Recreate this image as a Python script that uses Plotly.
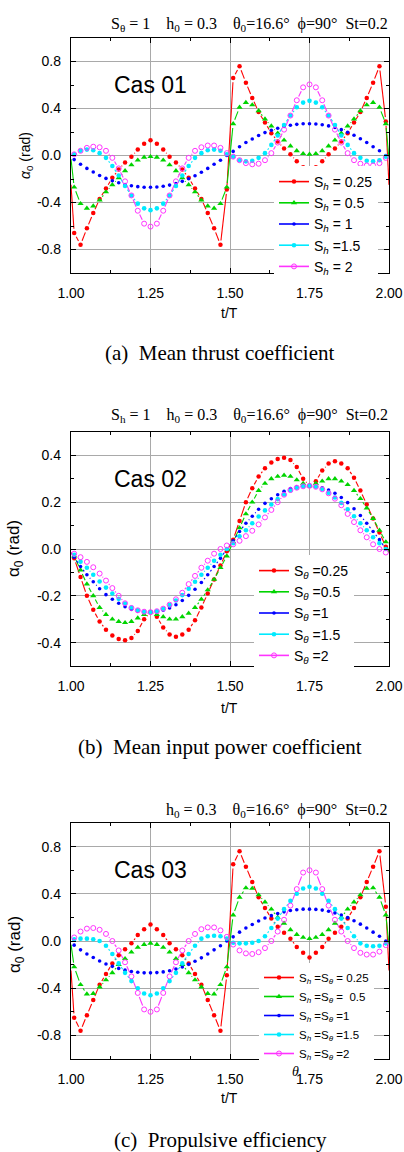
import math
import plotly.graph_objects as go

# ---------------- data ----------------
T = [1.00, 1.01, 1.03, 1.05, 1.07, 1.09, 1.11, 1.13, 1.15, 1.17, 1.19, 1.21, 1.23, 1.25,
     1.27, 1.29, 1.31, 1.33, 1.35, 1.37, 1.39, 1.41, 1.43, 1.45, 1.47, 1.49,
     1.51, 1.53, 1.55, 1.57, 1.59, 1.61, 1.63, 1.65, 1.67, 1.69, 1.71, 1.73, 1.75,
     1.77, 1.79, 1.81, 1.83, 1.85, 1.87, 1.89, 1.91, 1.93, 1.95, 1.97, 1.99, 2.00]

# Cas 01 : S_theta = 1, S_h varies
cas1_sh025 = [-0.25,
    -0.66, -0.76, -0.62, -0.49, -0.37, -0.28, -0.19, -0.12, -0.06, -0.01, 0.05, 0.10, 0.13,
    0.10, 0.05, -0.01, -0.06, -0.12, -0.19, -0.28, -0.37, -0.49, -0.62, -0.76, -0.29,
    0.66, 0.76, 0.62, 0.49, 0.37, 0.28, 0.19, 0.12, 0.06, 0.01, -0.05, -0.10, -0.13,
    -0.10, -0.05, 0.01, 0.06, 0.12, 0.19, 0.28, 0.37, 0.49, 0.62, 0.76, 0.29,
    -0.25]
cas1_sh05 = [-0.03,
    -0.27, -0.41, -0.45, -0.43, -0.38, -0.31, -0.25, -0.19, -0.13, -0.08, -0.04, -0.015, -0.01,
    -0.015, -0.04, -0.08, -0.13, -0.19, -0.25, -0.31, -0.38, -0.43, -0.45, -0.41, -0.27,
    0.27, 0.41, 0.45, 0.43, 0.38, 0.31, 0.25, 0.19, 0.13, 0.08, 0.04, 0.015, 0.01,
    0.015, 0.04, 0.08, 0.13, 0.19, 0.25, 0.31, 0.38, 0.43, 0.45, 0.41, 0.27,
    -0.03]
cas1_sh1 = [-0.017,
    -0.035, -0.075, -0.11, -0.14, -0.17, -0.195, -0.215, -0.232, -0.247, -0.258, -0.265, -0.27, -0.27,
    -0.268, -0.262, -0.252, -0.238, -0.22, -0.198, -0.172, -0.143, -0.11, -0.075, -0.04, 0.0,
    0.035, 0.075, 0.11, 0.14, 0.17, 0.195, 0.215, 0.232, 0.247, 0.258, 0.265, 0.27, 0.27,
    0.268, 0.262, 0.252, 0.238, 0.22, 0.198, 0.172, 0.143, 0.11, 0.075, 0.04, 0.0,
    -0.017]
cas1_sh15 = [0.0,
    0.01, 0.04, 0.05, 0.045, 0.02, -0.02, -0.09, -0.17, -0.26, -0.34, -0.41, -0.45, -0.465,
    -0.45, -0.41, -0.34, -0.26, -0.17, -0.09, -0.02, 0.02, 0.045, 0.05, 0.04, 0.01,
    -0.01, -0.04, -0.05, -0.045, -0.02, 0.02, 0.09, 0.17, 0.26, 0.34, 0.41, 0.45, 0.465,
    0.45, 0.41, 0.34, 0.26, 0.17, 0.09, 0.02, -0.02, -0.045, -0.05, -0.04, -0.01,
    0.0]
cas1_sh2 = [0.0,
    0.01, 0.04, 0.065, 0.075, 0.07, 0.04, -0.02, -0.11, -0.22, -0.34, -0.47, -0.58, -0.605,
    -0.58, -0.47, -0.34, -0.22, -0.11, -0.02, 0.04, 0.07, 0.085, 0.085, 0.065, 0.02,
    -0.01, -0.04, -0.065, -0.075, -0.07, -0.04, 0.02, 0.11, 0.22, 0.34, 0.47, 0.58, 0.605,
    0.58, 0.47, 0.34, 0.22, 0.11, 0.02, -0.04, -0.07, -0.085, -0.085, -0.065, -0.02,
    0.0]

# Cas 02 : S_h = 1, S_theta varies
cas2_st025 = [-0.015,
    -0.04, -0.12, -0.20, -0.26, -0.31, -0.345, -0.37, -0.385, -0.39, -0.38, -0.35, -0.30, -0.27,
    -0.29, -0.335, -0.365, -0.375, -0.365, -0.345, -0.305, -0.25, -0.19, -0.13, -0.07, -0.01,
    0.04, 0.12, 0.20, 0.26, 0.31, 0.345, 0.37, 0.385, 0.39, 0.38, 0.35, 0.30, 0.27,
    0.29, 0.335, 0.365, 0.375, 0.365, 0.345, 0.305, 0.25, 0.19, 0.13, 0.07, 0.01,
    -0.015]
cas2_st05 = [-0.015,
    -0.03, -0.09, -0.15, -0.20, -0.25, -0.28, -0.30, -0.31, -0.315, -0.31, -0.295, -0.28, -0.27,
    -0.28, -0.29, -0.30, -0.30, -0.29, -0.275, -0.25, -0.215, -0.175, -0.13, -0.08, -0.03,
    0.03, 0.09, 0.15, 0.20, 0.25, 0.28, 0.30, 0.31, 0.315, 0.31, 0.295, 0.28, 0.27,
    0.28, 0.29, 0.30, 0.30, 0.29, 0.275, 0.25, 0.215, 0.175, 0.13, 0.08, 0.03,
    -0.015]
cas2_st1 = [-0.017,
    -0.035, -0.075, -0.11, -0.14, -0.17, -0.195, -0.215, -0.232, -0.247, -0.258, -0.265, -0.27, -0.27,
    -0.268, -0.262, -0.252, -0.238, -0.22, -0.198, -0.172, -0.143, -0.11, -0.075, -0.04, 0.0,
    0.035, 0.075, 0.11, 0.14, 0.17, 0.195, 0.215, 0.232, 0.247, 0.258, 0.265, 0.27, 0.27,
    0.268, 0.262, 0.252, 0.238, 0.22, 0.198, 0.172, 0.143, 0.11, 0.075, 0.04, 0.0,
    -0.017]
cas2_st15 = [-0.015,
    -0.025, -0.054, -0.08, -0.11, -0.139, -0.165, -0.19, -0.213, -0.233, -0.25, -0.262, -0.268, -0.27,
    -0.266, -0.256, -0.24, -0.22, -0.197, -0.17, -0.14, -0.11, -0.08, -0.05, -0.025, 0.0,
    0.025, 0.054, 0.08, 0.11, 0.139, 0.165, 0.19, 0.213, 0.233, 0.25, 0.262, 0.268, 0.27,
    0.266, 0.256, 0.24, 0.22, 0.197, 0.17, 0.14, 0.11, 0.08, 0.05, 0.025, 0.0,
    -0.015]
cas2_st2 = [-0.015,
    -0.02, -0.035, -0.055, -0.078, -0.105, -0.135, -0.167, -0.2, -0.232, -0.252, -0.262, -0.268, -0.27,
    -0.266, -0.255, -0.238, -0.215, -0.187, -0.15, -0.115, -0.08, -0.05, -0.02, 0.0, 0.015,
    0.02, 0.035, 0.055, 0.078, 0.105, 0.135, 0.167, 0.2, 0.232, 0.252, 0.262, 0.268, 0.27,
    0.266, 0.255, 0.238, 0.215, 0.187, 0.15, 0.115, 0.08, 0.05, 0.02, 0.0, -0.015,
    -0.015]

# Cas 03 : S_h = S_theta varies
cas3_s025 = [-0.25,
    -0.65, -0.76, -0.63, -0.50, -0.37, -0.28, -0.19, -0.12, -0.07, -0.02, 0.05, 0.10, 0.14,
    0.10, 0.05, -0.02, -0.07, -0.12, -0.19, -0.28, -0.37, -0.50, -0.63, -0.76, -0.29,
    0.65, 0.76, 0.63, 0.50, 0.37, 0.28, 0.19, 0.12, 0.07, 0.02, -0.05, -0.10, -0.14,
    -0.10, -0.05, 0.02, 0.07, 0.12, 0.19, 0.28, 0.37, 0.50, 0.63, 0.76, 0.29,
    -0.25]
cas3_s05 = [-0.03,
    -0.22, -0.37, -0.45, -0.445, -0.39, -0.33, -0.27, -0.20, -0.15, -0.095, -0.055, -0.03, -0.02,
    -0.03, -0.055, -0.095, -0.15, -0.20, -0.27, -0.33, -0.39, -0.445, -0.45, -0.37, -0.22,
    0.22, 0.37, 0.45, 0.445, 0.39, 0.33, 0.27, 0.20, 0.15, 0.095, 0.055, 0.03, 0.02,
    0.03, 0.055, 0.095, 0.15, 0.20, 0.27, 0.33, 0.39, 0.445, 0.45, 0.37, 0.22,
    -0.03]
cas3_s1 = [-0.017,
    -0.035, -0.075, -0.11, -0.14, -0.17, -0.195, -0.215, -0.232, -0.247, -0.258, -0.265, -0.27, -0.27,
    -0.268, -0.262, -0.252, -0.238, -0.22, -0.198, -0.172, -0.143, -0.11, -0.075, -0.04, 0.0,
    0.035, 0.075, 0.11, 0.14, 0.17, 0.195, 0.215, 0.232, 0.247, 0.258, 0.265, 0.27, 0.27,
    0.268, 0.262, 0.252, 0.238, 0.22, 0.198, 0.172, 0.143, 0.11, 0.075, 0.04, 0.0,
    -0.017]
cas3_s15 = [0.0,
    0.015, 0.02, 0.02, 0.015, 0.0, -0.04, -0.11, -0.19, -0.27, -0.34, -0.40, -0.445, -0.46,
    -0.445, -0.40, -0.34, -0.27, -0.19, -0.11, -0.04, 0.02, 0.04, 0.045, 0.04, 0.02,
    -0.015, -0.02, -0.02, -0.015, 0.0, 0.04, 0.11, 0.19, 0.27, 0.34, 0.40, 0.445, 0.46,
    0.445, 0.40, 0.34, 0.27, 0.19, 0.11, 0.04, -0.02, -0.04, -0.045, -0.04, -0.02,
    0.0]
cas3_s2 = [0.0,
    0.03, 0.08, 0.105, 0.11, 0.095, 0.06, 0.0, -0.08, -0.18, -0.30, -0.44, -0.58, -0.60,
    -0.58, -0.44, -0.30, -0.18, -0.08, 0.0, 0.06, 0.10, 0.115, 0.115, 0.09, 0.035,
    -0.03, -0.08, -0.105, -0.11, -0.095, -0.06, 0.0, 0.08, 0.18, 0.30, 0.44, 0.58, 0.60,
    0.58, 0.44, 0.30, 0.18, 0.08, 0.0, -0.06, -0.10, -0.115, -0.115, -0.09, -0.035,
    0.0]

LEG1 = ['S<sub><i>h</i></sub> = 0.25', 'S<sub><i>h</i></sub> = 0.5', 'S<sub><i>h</i></sub> = 1',
        'S<sub><i>h</i></sub> =1.5', 'S<sub><i>h</i></sub> = 2']
LEG2 = ['S<sub><i>θ</i></sub> =0.25', 'S<sub><i>θ</i></sub> =0.5', 'S<sub><i>θ</i></sub> =1',
        'S<sub><i>θ</i></sub> =1.5', 'S<sub><i>θ</i></sub> =2']
LEG3 = ['S<sub><i>h</i></sub> =S<sub><i>θ</i></sub> = 0.25', 'S<sub><i>h</i></sub> =S<sub><i>θ</i></sub> =\u00a0 0.5',
        'S<sub><i>h</i></sub> =S<sub><i>θ</i></sub> =1', 'S<sub><i>h</i></sub> =S<sub><i>θ</i></sub> =1.5',
        'S<sub><i>h</i></sub> =S<sub><i>θ</i></sub> =2']

X_TICKS = [1.0, 1.25, 1.5, 1.75, 2.0]
X_LABELS = ['1.00', '1.25', '1.50', '1.75', '2.00']
Y_TICKS_A = [-0.8, -0.4, 0.0, 0.4, 0.8]
Y_LABELS_A = ['-0.8', '-0.4', '0.0', '0.4', '0.8']
Y_TICKS_B = [-0.4, -0.2, 0.0, 0.2, 0.4]
Y_LABELS_B = ['-0.4', '-0.2', '0.0', '0.2', '0.4']

HEADERS = ['S<sub>θ</sub> = 1\u00a0\u00a0\u00a0 h<sub>0</sub> = 0.3\u00a0\u00a0\u00a0 θ<sub>0</sub>=16.6°\u00a0 ϕ=90°\u00a0 St=0.2',
           'S<sub>h</sub> = 1\u00a0\u00a0\u00a0 h<sub>0</sub> = 0.3\u00a0\u00a0\u00a0 θ<sub>0</sub>=16.6°\u00a0 ϕ=90°\u00a0 St=0.2',
           'h<sub>0</sub> = 0.3\u00a0\u00a0\u00a0 θ<sub>0</sub>=16.6°\u00a0 ϕ=90°\u00a0 St=0.2']
CAPTIONS = ['(a)\u00a0 Mean thrust coefficient', '(b)\u00a0 Mean input power coefficient',
            '(c)\u00a0 Propulsive efficiency']
CASES = ['Cas 01', 'Cas 02', 'Cas 03']

# ---------------- layout geometry ----------------
W, H = 404, 1152
PX0, PX1 = 71, 389
PANELS = [(38, 273), (432, 666), (823, 1059)]
YRANGES = [(-1.0, 1.0), (-0.5, 0.5), (-1.0, 1.0)]

COLORS = ['#ff0000', '#00d400', '#0000ff', '#00eaff', '#ff33ff']
SYMBOLS = ['circle', 'triangle-up', 'circle', 'circle', 'circle-open']
MSIZES = [4.5, 5.5, 3.6, 4.6, 5]

series_sets = [
    [cas1_sh025, cas1_sh05, cas1_sh1, cas1_sh15, cas1_sh2],
    [cas2_st025, cas2_st05, cas2_st1, cas2_st15, cas2_st2],
    [cas3_s025, cas3_s05, cas3_s1, cas3_s15, cas3_s2],
]
legends = [LEG1, LEG2, LEG3]
for s in series_sets:
    for v in s:
        assert len(v) == len(T), len(v)


def gapped(xv, yv, has_m, xs, ys, g):
    X, Y = [], []
    for i in range(len(xv) - 1):
        dx = xv[i + 1] - xv[i]
        dy = yv[i + 1] - yv[i]
        d = math.hypot(dx * xs, dy * ys)
        g0 = g if has_m[i] else 0.0
        g1 = g if has_m[i + 1] else 0.0
        if d <= g0 + g1 + 0.8:
            continue
        f0 = g0 / d
        f1 = 1 - g1 / d
        X += [xv[i] + dx * f0, xv[i] + dx * f1, None]
        Y += [yv[i] + dy * f0, yv[i] + dy * f1, None]
    return X, Y


fig = go.Figure()
SANS = 'Liberation Sans, Arial, sans-serif'
SERIF = 'Liberation Serif, Times New Roman, serif'

has_marker = [False] + [True] * (len(T) - 2) + [False]

for p, (top, bot) in enumerate(PANELS):
    sfx = '' if p == 0 else str(p + 1)
    xa, ya = 'x' + sfx, 'y' + sfx
    y0, y1 = YRANGES[p]
    xs = (PX1 - PX0) / (T[-1] - T[0])
    ys = (bot - top) / (y1 - y0)
    for k, vals in enumerate(series_sets[p]):
        gx, gy = gapped(T, vals, has_marker, xs, ys, 4.3)
        fig.add_trace(go.Scatter(x=gx, y=gy, mode='lines', xaxis=xa, yaxis=ya,
                                 line=dict(color=COLORS[k], width=1.1),
                                 showlegend=False, hoverinfo='skip'))
    for k, vals in enumerate(series_sets[p]):
        fig.add_trace(go.Scatter(x=T[1:-1], y=vals[1:-1], mode='markers', xaxis=xa, yaxis=ya,
                                 marker=dict(color=COLORS[k], symbol=SYMBOLS[k], size=MSIZES[k],
                                             line=dict(width=1 if k == 4 else 0, color=COLORS[k])),
                                 showlegend=False, hoverinfo='skip'))
    lg = 'legend' if p == 0 else 'legend' + str(p + 1)
    for k in range(5):
        fig.add_trace(go.Scatter(x=[None], y=[None], mode='lines+markers', xaxis=xa, yaxis=ya,
                                 name=legends[p][k], legend=lg,
                                 line=dict(color=COLORS[k], width=1.6),
                                 marker=dict(color=COLORS[k], symbol=SYMBOLS[k], size=MSIZES[k],
                                             line=dict(width=1 if k == 4 else 0, color=COLORS[k]))))

axis_common = dict(showline=True, linecolor='black', linewidth=1.3, mirror='allticks',
                   ticks='inside', ticklen=5, tickwidth=1.2, tickcolor='black',
                   showgrid=True, gridcolor='#a9a9a9', gridwidth=1.4, zeroline=False,
                   automargin=False,
                   tickfont=dict(family=SANS, size=14, color='black'))

layout = dict(width=W, height=H, margin=dict(l=0, r=0, t=0, b=0, autoexpand=False),
              autosize=False, paper_bgcolor='white', plot_bgcolor='white', showlegend=True)

annotations = []
leg_pos = [(274, 166, 14), (254, 555, 14), (259, 963, 11.5)]
ytitle = [('<i>α</i><sub>0</sub> (rad)', 26, 156, 14), ('α<sub>0</sub> (rad)', 15, 549, 17),
          ('α<sub>0</sub> (rad)', 16, 945, 17)]
header_y = [24, 415, 810]
caption_y = [353, 747, 1140]
ttitle_y = [313, 708, 1098]
for p, (top, bot) in enumerate(PANELS):
    sfx = '' if p == 0 else str(p + 1)
    xd = [PX0 / W, PX1 / W]
    yd = [1 - bot / H, 1 - top / H]
    xk = dict(axis_common, domain=xd, range=[1.0, 2.0], anchor='y' + sfx,
              tickvals=X_TICKS, ticktext=X_LABELS, ticklabelstandoff=7,
              minor=dict(dtick=0.125, tick0=1.0, ticks='inside', ticklen=3, tickcolor='black',
                         showgrid=False))
    if p == 1:
        yk = dict(axis_common, domain=yd, range=list(YRANGES[p]), anchor='x' + sfx,
                  tickvals=Y_TICKS_B, ticktext=Y_LABELS_B, ticklabelstandoff=6,
                  minor=dict(dtick=0.1, tick0=0, ticks='inside', ticklen=3, tickcolor='black',
                             showgrid=False))
    else:
        yk = dict(axis_common, domain=yd, range=list(YRANGES[p]), anchor='x' + sfx,
                  tickvals=Y_TICKS_A, ticktext=Y_LABELS_A, ticklabelstandoff=6,
                  minor=dict(dtick=0.2, tick0=0, ticks='inside', ticklen=3, tickcolor='black',
                             showgrid=False))
    layout['xaxis' + sfx] = xk
    layout['yaxis' + sfx] = yk
    lx, ly, lfs = leg_pos[p]
    lname = 'legend' if p == 0 else 'legend' + str(p + 1)
    layout[lname] = dict(x=lx / W, y=1 - ly / H, xanchor='left', yanchor='top',
                         bgcolor='white', borderwidth=0, itemwidth=30,
                         font=dict(family=SANS, size=lfs, color='black'), tracegroupgap=0)
    annotations.append(dict(text=CASES[p], x=1.25, y=(0.3 if p == 1 else 0.6), xref='x' + sfx,
                            yref='y' + sfx, showarrow=False,
                            font=dict(family=SANS, size=23, color='black')))
    annotations.append(dict(text=HEADERS[p], x=390 / W, y=1 - header_y[p] / H, xref='paper',
                            yref='paper', xanchor='right', yanchor='middle', showarrow=False,
                            font=dict(family=SERIF, size=16, color='black')))
    t_, tx, ty, tfs = ytitle[p]
    annotations.append(dict(text=t_, x=tx / W, y=1 - ty / H, xref='paper', yref='paper',
                            xanchor='center', yanchor='middle', textangle=-90, showarrow=False,
                            font=dict(family=SANS, size=tfs, color='black')))
    annotations.append(dict(text='t/T', x=230 / W, y=1 - ttitle_y[p] / H, xref='paper',
                            yref='paper', xanchor='center', yanchor='middle', showarrow=False,
                            font=dict(family=SANS, size=14, color='black')))
    annotations.append(dict(text=CAPTIONS[p], x=220 / W, y=1 - caption_y[p] / H, xref='paper',
                            yref='paper', xanchor='center', yanchor='middle', showarrow=False,
                            font=dict(family=SERIF, size=21, color='black')))

annotations.append(dict(text='<i>θ</i>', x=295 / W, y=1 - 1071 / H, xref='paper', yref='paper',
                        xanchor='center', yanchor='middle', showarrow=False,
                        font=dict(family=SERIF, size=14, color='black')))
layout['annotations'] = annotations
fig.update_layout(**layout)
fig.write_html('out.html', config={'displayModeBar': False, 'responsive': False},
               post_script="document.body.style.margin='0px';document.body.style.padding='0px';"
                           "document.body.style.overflow='hidden';")
